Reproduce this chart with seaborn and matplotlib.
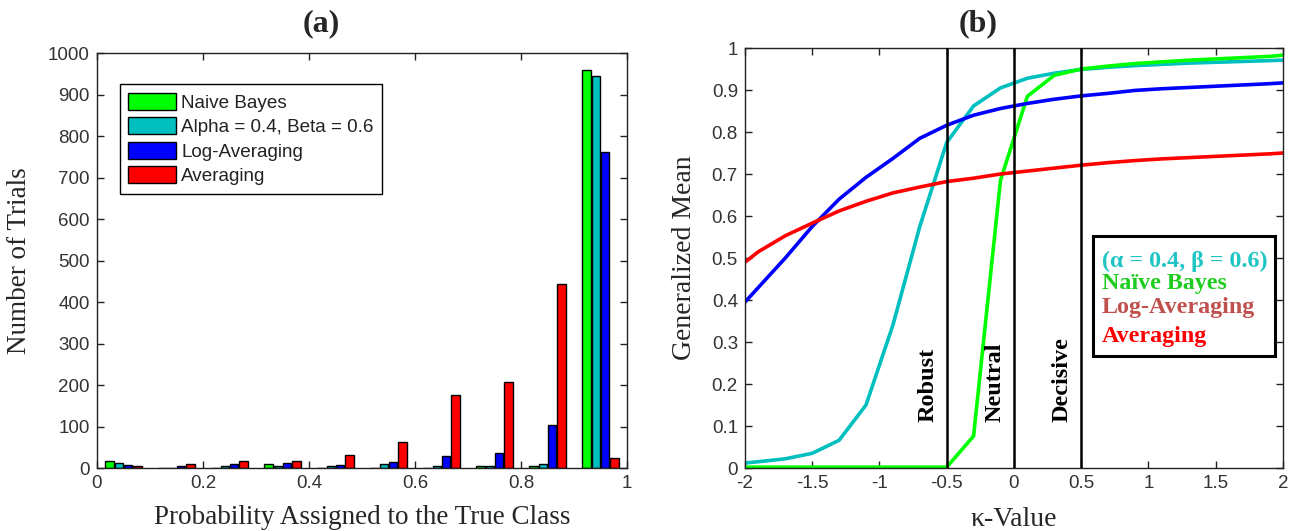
import matplotlib
matplotlib.use("Agg")
import matplotlib.pyplot as plt
from matplotlib.patches import Patch, Rectangle
import seaborn as sns
import pandas as pd
import numpy as np

# ---------------- data ----------------
# (a) histogram: bin centres and counts per method
bin_centers = [0.05, 0.15, 0.25, 0.35, 0.45, 0.55, 0.65, 0.75, 0.85, 0.95]
hist_methods = ["Naive Bayes", "Alpha = 0.4, Beta = 0.6", "Log-Averaging", "Averaging"]
counts_nb = [18, 1, 1, 9, 1, 0, 1, 4, 4, 960]
counts_ab = [13, 1, 4, 6, 4, 9, 4, 4, 9, 945]
counts_log = [7, 6, 9, 12, 7, 15, 28, 37, 103, 762]
counts_avg = [4, 9, 18, 18, 32, 62, 176, 207, 443, 25]
hist_colors = ["#00ff00", "#00bfbf", "#0000ff", "#ff0000"]
a_xticks = [0, 0.2, 0.4, 0.6, 0.8, 1]
a_xticklabels = ["0", "0.2", "0.4", "0.6", "0.8", "1"]
a_yticks = [0, 100, 200, 300, 400, 500, 600, 700, 800, 900, 1000]
a_yticklabels = [str(v) for v in a_yticks]

# (b) generalized mean vs kappa
kappa = [-2.0, -1.9, -1.7, -1.5, -1.3, -1.1, -0.9, -0.7, -0.5, -0.3, -0.1,
         0.1, 0.3, 0.5, 0.7, 0.9, 1.1, 1.3, 1.5, 1.7, 1.9, 2.0]
gm_alphabeta = [0.012, 0.015, 0.022, 0.035, 0.066, 0.150, 0.340, 0.575, 0.775,
                0.862, 0.905, 0.928, 0.940, 0.949, 0.954, 0.958, 0.961, 0.964,
                0.966, 0.968, 0.970, 0.971]
gm_naive = [0.002, 0.002, 0.002, 0.002, 0.002, 0.002, 0.002, 0.002, 0.002,
            0.076, 0.685, 0.885, 0.935, 0.950, 0.957, 0.963, 0.967, 0.971,
            0.974, 0.977, 0.980, 0.983]
gm_log = [0.395, 0.430, 0.500, 0.575, 0.640, 0.692, 0.737, 0.785, 0.816,
          0.840, 0.856, 0.868, 0.878, 0.886, 0.892, 0.899, 0.903, 0.906,
          0.909, 0.912, 0.915, 0.917]
gm_avg = [0.490, 0.515, 0.553, 0.583, 0.612, 0.635, 0.655, 0.669, 0.682,
          0.690, 0.700, 0.707, 0.714, 0.721, 0.727, 0.732, 0.736, 0.739,
          0.742, 0.745, 0.748, 0.750]
line_names = ["alphabeta", "naive", "log", "avg"]
line_colors = ["#00bfbf", "#00ff00", "#0000ff", "#ff0000"]
regime_x = [-0.5, 0.0, 0.5]
regime_labels = ["Robust", "Neutral", "Decisive"]
b_legend_texts = ["(\u03b1 = 0.4, \u03b2 = 0.6)", "Na\u00efve Bayes", "Log-Averaging", "Averaging"]
b_legend_colors = ["#1fc4c4", "#1ecc1e", "#c0504d", "#ff0000"]
b_xticks = [-2, -1.5, -1, -0.5, 0, 0.5, 1, 1.5, 2]
b_xticklabels = ["-2", "-1.5", "-1", "-0.5", "0", "0.5", "1", "1.5", "2"]
b_yticks = [0, 0.1, 0.2, 0.3, 0.4, 0.5, 0.6, 0.7, 0.8, 0.9, 1]
b_yticklabels = ["0", "0.1", "0.2", "0.3", "0.4", "0.5", "0.6", "0.7", "0.8", "0.9", "1"]

# ---------------- style ----------------
sns.set_style("ticks")
plt.rcParams["font.family"] = ["Liberation Sans", "DejaVu Sans"]
plt.rcParams["axes.unicode_minus"] = False
SERIF = ["Liberation Serif", "DejaVu Serif"]
TICKCOL = "#333333"

fig = plt.figure(figsize=(12.96, 5.31), dpi=100)
axa = fig.add_axes([0.0748, 0.1186, 0.409, 0.7815])
axb = fig.add_axes([0.5748, 0.1186, 0.4151, 0.791])

def style_axes(ax):
    for s in ax.spines.values():
        s.set_visible(True)
        s.set_color("#222222")
        s.set_linewidth(1.0)
    ax.tick_params(direction="in", top=True, right=True, length=5, width=1,
                   color="#222222", labelcolor=TICKCOL, labelsize=13.5, pad=5)

# ---------------- (a) ----------------
rows = []
for m, vals in zip(hist_methods, [counts_nb, counts_ab, counts_log, counts_avg]):
    for c, v in zip(bin_centers, vals):
        rows.append({"center": c, "count": v, "method": m})
dfa = pd.DataFrame(rows)
sns.barplot(data=dfa, x="center", y="count", hue="method", hue_order=hist_methods,
            palette=hist_colors, native_scale=True, width=0.70, gap=0.08,
            edgecolor="black", linewidth=1.0, errorbar=None, legend=False,
            saturation=1, ax=axa)
axa.set_xlim(0, 1)
axa.set_ylim(0, 1000)
axa.set_xticks(a_xticks)
axa.set_xticklabels(a_xticklabels)
axa.set_yticks(a_yticks)
axa.set_yticklabels(a_yticklabels)
style_axes(axa)
axa.set_xlabel("Probability Assigned to the True Class", family=SERIF, fontsize=19.5)
axa.set_ylabel("Number of Trials", family=SERIF, fontsize=19.5)
axa.xaxis.set_label_coords(0.5, -0.088)
axa.yaxis.set_label_coords(-0.123, 0.5)
handles = [Patch(facecolor=c, edgecolor="black", linewidth=1.0) for c in hist_colors]
leg = axa.legend(handles, hist_methods, loc="upper left", bbox_to_anchor=(0.043, 0.925),
                 borderaxespad=0, fontsize=13.6, frameon=True, fancybox=False,
                 edgecolor="black", framealpha=1, handlelength=2.55, handleheight=1.0,
                 handletextpad=0.25, labelspacing=0.3, borderpad=0.45)
leg.get_frame().set_linewidth(1.0)
for t in leg.get_texts():
    t.set_color("#222222")

# ---------------- (b) ----------------
rows = []
for n, vals in zip(line_names, [gm_alphabeta, gm_naive, gm_log, gm_avg]):
    for k, v in zip(kappa, vals):
        rows.append({"kappa": k, "gm": v, "series": n})
dfb = pd.DataFrame(rows)
sns.lineplot(data=dfb, x="kappa", y="gm", hue="series", hue_order=line_names,
             palette=line_colors, linewidth=2.6, legend=False, sort=False,
             estimator=None, ax=axb)
for xv, lab in zip(regime_x, regime_labels):
    axb.axvline(xv, color="black", linewidth=1.8, zorder=3)
    axb.text(xv - 0.14, 0.11, lab, rotation=90, ha="center", va="bottom",
             family=SERIF, fontweight="bold", fontsize=17.5, color="black")
axb.set_xlim(-2, 2)
axb.set_ylim(0, 1)
axb.set_xticks(b_xticks)
axb.set_xticklabels(b_xticklabels)
axb.set_yticks(b_yticks)
axb.set_yticklabels(b_yticklabels)
style_axes(axb)
axb.set_xlabel("\u03ba-Value", family=SERIF, fontsize=20)
axb.set_ylabel("Generalized Mean", family=SERIF, fontsize=20)
axb.xaxis.set_label_coords(0.5, -0.092)
axb.yaxis.set_label_coords(-0.089, 0.5)
axb.add_patch(Rectangle((0.647, 0.267), 0.338, 0.286, transform=axb.transAxes,
                        facecolor="white", edgecolor="black", linewidth=2.2, zorder=5))
for ypos, txt, col in zip([0.493, 0.440, 0.381, 0.312], b_legend_texts, b_legend_colors):
    axb.text(0.663, ypos, txt, transform=axb.transAxes, ha="left", va="center",
             family=SERIF, fontweight="bold", fontsize=17.3, color=col, zorder=6)

# titles
fig.text(0.248, 0.955, "(a)", ha="center", va="center", family=SERIF,
         fontweight="bold", fontsize=23)
fig.text(0.755, 0.955, "(b)", ha="center", va="center", family=SERIF,
         fontweight="bold", fontsize=23)

fig.savefig("out.png", dpi=100)
